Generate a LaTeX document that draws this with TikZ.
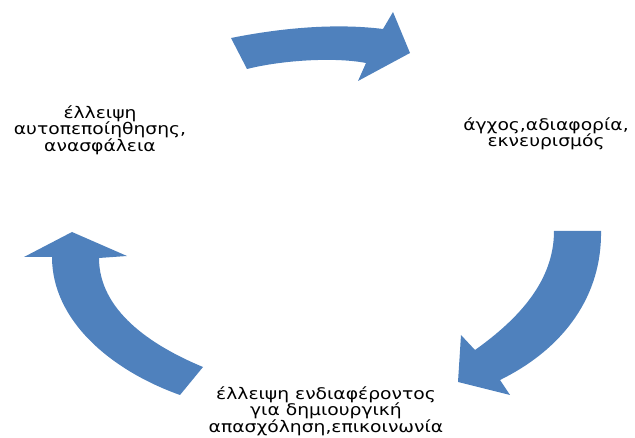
\documentclass[tikz,border=0pt]{standalone}
\usepackage{fontspec}
\setmainfont{DejaVu Sans}
\newfontfamily\widegreek[FakeStretch=1.17]{DejaVu Sans}
\definecolor{arrowblue}{RGB}{79,129,189}
\begin{document}
\begin{tikzpicture}[x=1pt,y=-1pt,
  blockarrow/.style={fill=arrowblue},
  lbl/.style={align=center, inner sep=0pt, text=black,
    font=\widegreek\fontsize{16}{16.5}\selectfont}]
\useasboundingbox (0,0) rectangle (635,438);
% top arrow
\fill[blockarrow] (231,38) .. controls (281,28) and (335,23) .. (383,29)
  -- (393,12) -- (410,53) -- (358,81) -- (366,63)
  .. controls (335,57) and (283,60) .. (247,69) -- cycle;
% right arrow
\fill[blockarrow] (601,231) .. controls (602,295) and (565,348) .. (500,380)
  -- (510,395) -- (458,382) -- (461,335) -- (475,350)
  .. controls (520,318) and (554,280) .. (554,231) -- cycle;
% left arrow
\fill[blockarrow] (180,395) .. controls (110,370) and (52,320) .. (52,257)
  -- (24,257) -- (72,232) -- (127,256) -- (99,258)
  .. controls (99,310) and (150,345) .. (203,367) -- cycle;
% labels
\node[lbl] (selfdoubt) at (100,130) {έλλειψη\\αυτοπεποίηθησης,\\ανασφάλεια};
\node[lbl] (anxiety) at (546,134) {άγχος,αδιαφορία,\\εκνευρισμός};
\node[lbl] (interest) at (326,411) {έλλειψη ενδιαφέροντος\\για δημιουργική\\απασχόληση,επικοινωνία};
\end{tikzpicture}
\end{document}
